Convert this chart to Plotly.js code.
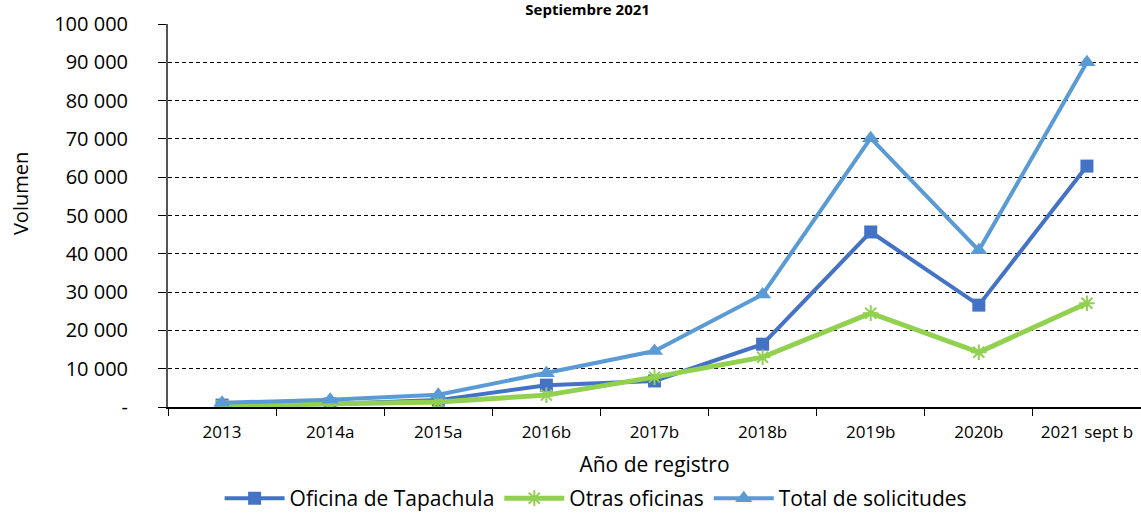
<!DOCTYPE html>
<html>
<head>
<meta charset="utf-8">
<script src="https://cdn.plot.ly/plotly-3.0.1.min.js"></script>
<style>
  html, body { margin: 0; padding: 0; background: #fff; }
  #chart { width: 1141px; height: 519px; }
</style>
</head>
<body>
<div id="chart"></div>
<script>
// datos
var years = ['2013', '2014a', '2015a', '2016b', '2017b', '2018b', '2019b', '2020b', '2021 sept b'];
var tapachula = [500, 800, 1800, 5700, 6800, 16400, 45700, 26600, 62900];
var otras = [300, 800, 1300, 3100, 7800, 13000, 24500, 14300, 27100];
var total = [1100, 1900, 3200, 8800, 14600, 29400, 70200, 40900, 90000];

var yTickVals = [0, 10000, 20000, 30000, 40000, 50000, 60000, 70000, 80000, 90000, 100000];
var yTickText = ['-', '10 000', '20 000', '30 000', '40 000', '50 000', '60 000', '70 000', '80 000', '90 000', '100 000'];

var fontFam = 'Open Sans, Noto Sans, sans-serif';

var trace1 = {
    type: 'scatter',
    mode: 'lines+markers',
    name: 'Oficina de Tapachula',
    x: years,
    y: tapachula,
    line: {color: '#4472C4', width: 4},
    marker: {symbol: 'square', size: 13, color: '#4472C4'}
};

var trace2 = {
    type: 'scatter',
    mode: 'lines+markers',
    name: 'Otras oficinas',
    x: years,
    y: otras,
    line: {color: '#92D050', width: 5},
    marker: {symbol: 'asterisk-open', size: 13, color: '#92D050', line: {color: '#92D050', width: 2}}
};

var trace3 = {
    type: 'scatter',
    mode: 'lines+markers',
    name: 'Total de solicitudes',
    x: years,
    y: total,
    line: {color: '#5B9BD5', width: 4},
    marker: {symbol: 'triangle-up', size: 15, color: '#5B9BD5'}
};

var layout = {
    width: 1141,
    height: 519,
    margin: {l: 168, r: 0, t: 24, b: 112},
    paper_bgcolor: '#fff',
    plot_bgcolor: '#fff',
    font: {family: fontFam, color: '#000'},
    showlegend: true,
    title: {
        text: '<b>Septiembre 2021</b>',
        font: {size: 15, family: fontFam, color: '#000'},
        x: 0.515,
        xref: 'container',
        y: 0.992,
        yref: 'container',
        yanchor: 'top',
        pad: {t: 0}
    },
    xaxis: {
        type: 'category',
        range: [-0.5, 8.5],
        showgrid: false,
        zeroline: false,
        showline: true,
        linecolor: '#000',
        linewidth: 1.5,
        ticks: 'outside',
        tickson: 'boundaries',
        ticklen: 7,
        tickcolor: '#000',
        tickfont: {size: 17},
        ticklabelstandoff: 9,
        title: {text: 'Año de registro', font: {size: 21}, standoff: 20}
    },
    yaxis: {
        range: [0, 100000],
        tickvals: yTickVals,
        ticktext: yTickText,
        showgrid: true,
        gridcolor: '#000',
        griddash: '4px,3px',
        gridwidth: 1,
        zeroline: false,
        showline: true,
        linecolor: '#555',
        linewidth: 2,
        ticks: 'outside',
        ticklen: 8,
        tickcolor: '#000',
        tickfont: {size: 20},
        ticklabelstandoff: 26
    },
    annotations: [{
        text: 'Volumen',
        textangle: -90,
        font: {size: 20},
        showarrow: false,
        xref: 'paper',
        x: 0,
        xshift: -148,
        xanchor: 'center',
        yref: 'paper',
        y: 0.556,
        yanchor: 'middle'
    }],
    legend: {
        orientation: 'h',
        x: 0.522,
        xref: 'container',
        xanchor: 'center',
        y: -0.025,
        yref: 'container',
        yanchor: 'bottom',
        font: {size: 21},
        itemwidth: 60,
        tracegroupgap: 0
    }
};

Plotly.newPlot('chart', [trace1, trace2, trace3], layout, {displayModeBar: false, staticPlot: true});
</script>
</body>
</html>
